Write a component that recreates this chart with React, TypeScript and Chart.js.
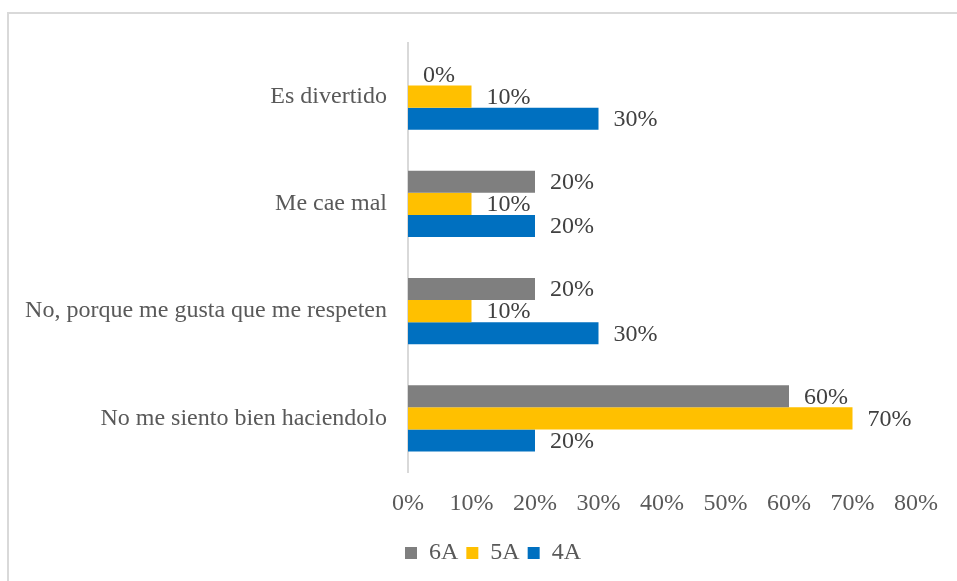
import React, { useEffect, useRef } from "react";
import { Chart, registerables } from "chart.js";

Chart.register(...registerables);

const categories = [
  "Es divertido",
  "Me cae mal",
  "No, porque me gusta que me respeten",
  "No me siento bien haciendolo",
];
const seriesNames = ["6A", "5A", "4A"];
const values6A = [0, 20, 20, 60];
const values5A = [10, 10, 10, 70];
const values4A = [30, 20, 30, 20];
const seriesColors = ["#7f7f7f", "#ffc000", "#0070c0"];
const xTicks = [0, 10, 20, 30, 40, 50, 60, 70, 80];

const FONT = "'Liberation Serif', 'Times New Roman', serif";

const dataLabels = {
  id: "dataLabels",
  afterDatasetsDraw(chart: any) {
    const ctx = chart.ctx;
    ctx.save();
    ctx.font = `24px ${FONT}`;
    ctx.fillStyle = "#404040";
    ctx.textAlign = "left";
    ctx.textBaseline = "middle";
    chart.data.datasets.forEach((ds: any, di: number) => {
      const meta = chart.getDatasetMeta(di);
      meta.data.forEach((el: any, i: number) => {
        ctx.fillText(`${ds.data[i]}%`, el.x + 15, el.y + 1);
      });
    });
    ctx.restore();
  },
};

const legendShift = {
  id: "legendShift",
  afterLayout(chart: any) {
    if (chart.legend) {
      chart.legend.left = 70;
    }
  },
};

export default function App() {
  const ref = useRef<HTMLCanvasElement | null>(null);
  useEffect(() => {
    if (!ref.current) return;
    const chart = new Chart(ref.current, {
      type: "bar",
      data: {
        labels: categories,
        datasets: [values6A, values5A, values4A].map((d, i) => ({
          label: seriesNames[i],
          data: d,
          backgroundColor: seriesColors[i],
          borderWidth: 0,
          barPercentage: 1,
          categoryPercentage: 0.62,
        })),
      },
      options: {
        indexAxis: "y",
        responsive: false,
        animation: false,
        layout: { padding: { left: 0, right: 41, top: 43, bottom: 6 } },
        plugins: {
          tooltip: { enabled: false },
          legend: {
            position: "bottom",
            labels: {
              boxWidth: 12,
              boxHeight: 12,
              padding: 8,
              color: "#595959",
              font: { family: FONT, size: 24 },
            },
          },
        },
        scales: {
          x: {
            min: 0,
            max: 80,
            afterBuildTicks(scale: any) {
              scale.ticks = xTicks.map((v) => ({ value: v }));
            },
            afterFit(scale: any) {
              scale.height = 61;
            },
            grid: { display: false, drawTicks: false },
            border: { display: false },
            ticks: {
              padding: 17,
              color: "#595959",
              font: { family: FONT, size: 24 },
              callback: (v: any) => `${v}%`,
            },
          },
          y: {
            afterFit(scale: any) {
              scale.width = 408;
            },
            grid: { display: false, drawTicks: false },
            border: { display: true, color: "#d9d9d9", width: 2 },
            ticks: {
              padding: 21,
              color: "#595959",
              font: { family: FONT, size: 24 },
            },
          },
        },
      },
      plugins: [dataLabels, legendShift],
    } as any);
    return () => chart.destroy();
  }, []);

  return (
    <div
      style={{
        position: "fixed",
        left: 0,
        top: 0,
        width: 957,
        height: 581,
        background: "#fff",
        overflow: "hidden",
      }}
    >
      <div
        style={{
          position: "absolute",
          left: 7,
          top: 12,
          width: 980,
          height: 600,
          border: "2px solid #d9d9d9",
          boxSizing: "border-box",
        }}
      />
      <canvas
        ref={ref}
        width={957}
        height={581}
        style={{ position: "absolute", left: 0, top: 0, width: 957, height: 581 }}
      />
    </div>
  );
}
